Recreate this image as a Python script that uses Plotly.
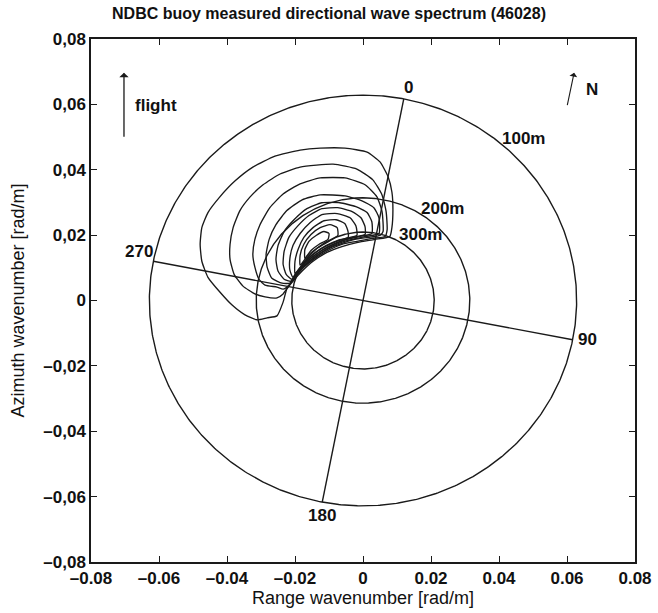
import numpy as np
import plotly.graph_objects as go

# ---------------- data ----------------
tick_vals = [-0.08, -0.06, -0.04, -0.02, 0, 0.02, 0.04, 0.06, 0.08]
x_tick_text = ["–0.08", "–0.06", "–0.04", "–0.02", "0", "0.02", "0.04", "0.06", "0.08"]
y_tick_text = ["–0,08", "–0,06", "–0,04", "–0,02", "0", "0,02", "0,04", "0,06", "0,08"]

ring_wavelengths = [100, 200, 300]          # m
ring_labels = ["100m", "200m", "300m"]
ring_label_x = [0.0471, 0.0235, 0.0168]
ring_label_y = [0.0496, 0.0281, 0.0202]

north_offset_deg = 11.0                       # bearing of true north in the SAR frame
direction_labels = ["0", "90", "180", "270"]
direction_deg = [0, 90, 180, 270]

# contour lines of the buoy spectrum (x = range k, y = azimuth k) [rad/m]
contour_1 = [(-0.0224, 0.0035), (-0.0235, -0.0005), (-0.0253, -0.0047), (-0.0282, -0.0053),
             (-0.0312, -0.0059), (-0.0347, -0.0044), (-0.0385, -0.0014), (-0.0421, 0.0026),
             (-0.0456, 0.0071), (-0.0474, 0.0120), (-0.0479, 0.0172), (-0.0474, 0.0223),
             (-0.0456, 0.0269), (-0.0421, 0.0317), (-0.0376, 0.0366), (-0.0324, 0.0408),
             (-0.0259, 0.0442), (-0.0185, 0.0460), (-0.0126, 0.0466), (-0.0053, 0.0466),
             (0.0012, 0.0454), (0.0050, 0.0424), (0.0074, 0.0378), (0.0085, 0.0332),
             (0.0088, 0.0278), (0.0085, 0.0223), (0.0079, 0.0196), (0.0035, 0.0187),
             (-0.0015, 0.0178), (-0.0062, 0.0165), (-0.0106, 0.0147), (-0.0147, 0.0120),
             (-0.0179, 0.0090), (-0.0206, 0.0059)]
contour_2 = [(-0.0221, 0.0041), (-0.0235, 0.0020), (-0.0253, 0.0008), (-0.0288, 0.0011),
             (-0.0318, 0.0020), (-0.0353, 0.0044), (-0.0379, 0.0080), (-0.0391, 0.0126),
             (-0.0391, 0.0172), (-0.0382, 0.0223), (-0.0362, 0.0275), (-0.0332, 0.0317),
             (-0.0294, 0.0354), (-0.0244, 0.0387), (-0.0185, 0.0408), (-0.0088, 0.0417),
             (-0.0018, 0.0402), (0.0029, 0.0369), (0.0056, 0.0323), (0.0068, 0.0272),
             (0.0071, 0.0217), (0.0065, 0.0196), (0.0026, 0.0190), (-0.0018, 0.0181),
             (-0.0062, 0.0172), (-0.0103, 0.0153), (-0.0141, 0.0129), (-0.0174, 0.0102),
             (-0.0200, 0.0071)]
contour_3 = [(-0.0218, 0.0047), (-0.0235, 0.0035), (-0.0253, 0.0041), (-0.0288, 0.0047),
             (-0.0306, 0.0065), (-0.0318, 0.0102), (-0.0324, 0.0141), (-0.0318, 0.0187),
             (-0.0303, 0.0232), (-0.0274, 0.0284), (-0.0235, 0.0326), (-0.0185, 0.0357),
             (-0.0126, 0.0375), (-0.0053, 0.0375), (0.0006, 0.0354), (0.0041, 0.0317),
             (0.0056, 0.0272), (0.0059, 0.0211), (0.0050, 0.0199), (0.0015, 0.0193),
             (-0.0024, 0.0187), (-0.0062, 0.0175), (-0.0100, 0.0159), (-0.0138, 0.0135),
             (-0.0171, 0.0108), (-0.0197, 0.0077)]
contour_4 = [(-0.0215, 0.0053), (-0.0238, 0.0053), (-0.0268, 0.0068), (-0.0282, 0.0102),
             (-0.0285, 0.0141), (-0.0276, 0.0187), (-0.0256, 0.0232), (-0.0224, 0.0275),
             (-0.0179, 0.0308), (-0.0126, 0.0323), (-0.0053, 0.0320), (-0.0003, 0.0305),
             (0.0032, 0.0284), (0.0047, 0.0253), (0.0047, 0.0205), (0.0009, 0.0196),
             (-0.0032, 0.0187), (-0.0071, 0.0175), (-0.0109, 0.0156), (-0.0144, 0.0132),
             (-0.0174, 0.0105), (-0.0197, 0.0077)]
contour_5 = [(-0.0212, 0.0059), (-0.0232, 0.0065), (-0.0250, 0.0090), (-0.0256, 0.0126),
             (-0.0250, 0.0168), (-0.0232, 0.0211), (-0.0203, 0.0247), (-0.0165, 0.0281),
             (-0.0121, 0.0299), (-0.0068, 0.0299), (-0.0021, 0.0287), (0.0012, 0.0269),
             (0.0026, 0.0241), (0.0026, 0.0205), (-0.0009, 0.0196), (-0.0047, 0.0187),
             (-0.0085, 0.0172), (-0.0121, 0.0153), (-0.0153, 0.0129), (-0.0182, 0.0102),
             (-0.0200, 0.0080)]
contour_6 = [(-0.0209, 0.0065), (-0.0226, 0.0080), (-0.0235, 0.0111), (-0.0232, 0.0150),
             (-0.0218, 0.0193), (-0.0191, 0.0229), (-0.0159, 0.0260), (-0.0121, 0.0281),
             (-0.0074, 0.0284), (-0.0032, 0.0272), (-0.0006, 0.0253), (0.0006, 0.0226),
             (0.0006, 0.0202), (-0.0029, 0.0193), (-0.0068, 0.0181), (-0.0103, 0.0165),
             (-0.0135, 0.0144), (-0.0165, 0.0120), (-0.0188, 0.0093)]
contour_7 = [(-0.0206, 0.0071), (-0.0215, 0.0093), (-0.0215, 0.0129), (-0.0206, 0.0168),
             (-0.0185, 0.0205), (-0.0156, 0.0238), (-0.0121, 0.0263), (-0.0076, 0.0266),
             (-0.0038, 0.0253), (-0.0021, 0.0229), (-0.0018, 0.0199), (-0.0050, 0.0190),
             (-0.0085, 0.0178), (-0.0121, 0.0159), (-0.0153, 0.0135), (-0.0179, 0.0108)]
contour_8 = [(-0.0200, 0.0083), (-0.0200, 0.0120), (-0.0191, 0.0156), (-0.0174, 0.0193),
             (-0.0147, 0.0223), (-0.0115, 0.0244), (-0.0079, 0.0247), (-0.0053, 0.0235),
             (-0.0044, 0.0211), (-0.0044, 0.0193), (-0.0074, 0.0184), (-0.0109, 0.0168),
             (-0.0141, 0.0147), (-0.0171, 0.0120)]
contour_9 = [(-0.0185, 0.0108), (-0.0185, 0.0138), (-0.0174, 0.0172), (-0.0153, 0.0202),
             (-0.0126, 0.0223), (-0.0097, 0.0232), (-0.0076, 0.0223), (-0.0074, 0.0199),
             (-0.0100, 0.0181), (-0.0132, 0.0162), (-0.0162, 0.0138)]
contour_10 = [(-0.0171, 0.0129), (-0.0171, 0.0156), (-0.0159, 0.0181), (-0.0138, 0.0199),
              (-0.0115, 0.0211), (-0.0100, 0.0205), (-0.0103, 0.0187), (-0.0129, 0.0172),
              (-0.0153, 0.0153)]
contours = [contour_1, contour_2, contour_3, contour_4, contour_5,
            contour_6, contour_7, contour_8, contour_9, contour_10]

# ---------------- figure ----------------
LINE = "#1a1a1a"
FONT = "Liberation Sans, Arial, Helvetica, sans-serif"
fig = go.Figure()

# wavelength rings
theta = np.linspace(0, 2 * np.pi, 721)
for lam in ring_wavelengths:
    k = 2 * np.pi / lam
    fig.add_trace(go.Scatter(x=k * np.sin(theta), y=k * np.cos(theta), mode="lines",
                             line=dict(color=LINE, width=1.4), hoverinfo="skip", showlegend=False))

# direction axes (0-180 and 90-270), rotated by the north offset
k_out = 2 * np.pi / min(ring_wavelengths)
ends = {}
for d in direction_deg:
    b = np.deg2rad(d + north_offset_deg)
    ends[d] = (k_out * np.sin(b), k_out * np.cos(b))
for a, b in [(0, 180), (270, 90)]:
    fig.add_trace(go.Scatter(x=[ends[a][0], ends[b][0]], y=[ends[a][1], ends[b][1]], mode="lines",
                             line=dict(color=LINE, width=1.4), hoverinfo="skip", showlegend=False))

# spectrum contours
for c in contours:
    xs = [p[0] for p in c] + [c[0][0]]
    ys = [p[1] for p in c] + [c[0][1]]
    fig.add_trace(go.Scatter(x=xs, y=ys, mode="lines",
                             line=dict(color=LINE, width=1.35, shape="spline", smoothing=0.5),
                             hoverinfo="skip", showlegend=False))

ann = []
lab_font = dict(family=FONT, size=17, color="#111")
# direction labels
shifts = {0: dict(xanchor="left", yanchor="bottom", xshift=-2, yshift=0),
          90: dict(xanchor="left", yanchor="middle", xshift=3, yshift=0),
          180: dict(xanchor="center", yanchor="top", xshift=0, yshift=-2),
          270: dict(xanchor="right", yanchor="bottom", xshift=2, yshift=-2)}
for d, t in zip(direction_deg, direction_labels):
    ann.append(dict(x=ends[d][0], y=ends[d][1], text="<b>%s</b>" % t, showarrow=False,
                    font=lab_font, **shifts[d]))
# ring labels
for t, lx, ly in zip(ring_labels, ring_label_x, ring_label_y):
    ann.append(dict(x=lx, y=ly, text="<b>%s</b>" % t, showarrow=False, font=lab_font,
                    xanchor="center", yanchor="middle"))
# flight arrow and N arrow
ann.append(dict(x=-0.0703, y=0.0697, ax=-0.0703, ay=0.0496, axref="x", ayref="y",
                xref="x", yref="y", showarrow=True, arrowhead=1, arrowsize=1.2,
                arrowwidth=1.3, arrowcolor=LINE, text=""))
ann.append(dict(x=-0.0676, y=0.0597, text="<b>flight</b>", showarrow=False, font=lab_font,
                xanchor="left", yanchor="middle"))
ann.append(dict(x=0.0621, y=0.0697, ax=0.0600, ay=0.0593, axref="x", ayref="y",
                xref="x", yref="y", showarrow=True, arrowhead=1, arrowsize=1.2,
                arrowwidth=1.1, arrowcolor=LINE, text=""))
ann.append(dict(x=0.0674, y=0.0645, text="<b>N</b>", showarrow=False, font=lab_font,
                xanchor="center", yanchor="middle"))

axis_common = dict(range=[-0.08, 0.08], tickvals=tick_vals, ticks="inside", ticklen=6,
                   tickwidth=1.3, tickcolor=LINE, showline=True, linecolor=LINE, linewidth=1.5,
                   mirror="ticks", showgrid=False, zeroline=False,
                   tickfont=dict(family=FONT, size=17, color="#111", weight="bold"))

fig.update_layout(
    width=658, height=613,
    margin=dict(l=91, r=23, t=39, b=51),
    paper_bgcolor="white", plot_bgcolor="white",
    title=dict(text="<b>NDBC buoy measured directional wave spectrum (46028)</b>",
               x=0.5, xref="container", xanchor="center", y=0.978, yref="container",
               yanchor="middle", font=dict(family=FONT, size=16, color="#111")),
    xaxis=dict(ticktext=x_tick_text, title=dict(text="Range wavenumber [rad/m]", standoff=2,
               font=dict(family=FONT, size=18, color="#111")), automargin=False, **axis_common),
    yaxis=dict(ticktext=y_tick_text, title=dict(text="Azimuth wavenumber [rad/m]", standoff=14,
               font=dict(family=FONT, size=18, color="#111")), automargin=False, **axis_common),
    annotations=ann,
)

fig.write_html("out.html")
